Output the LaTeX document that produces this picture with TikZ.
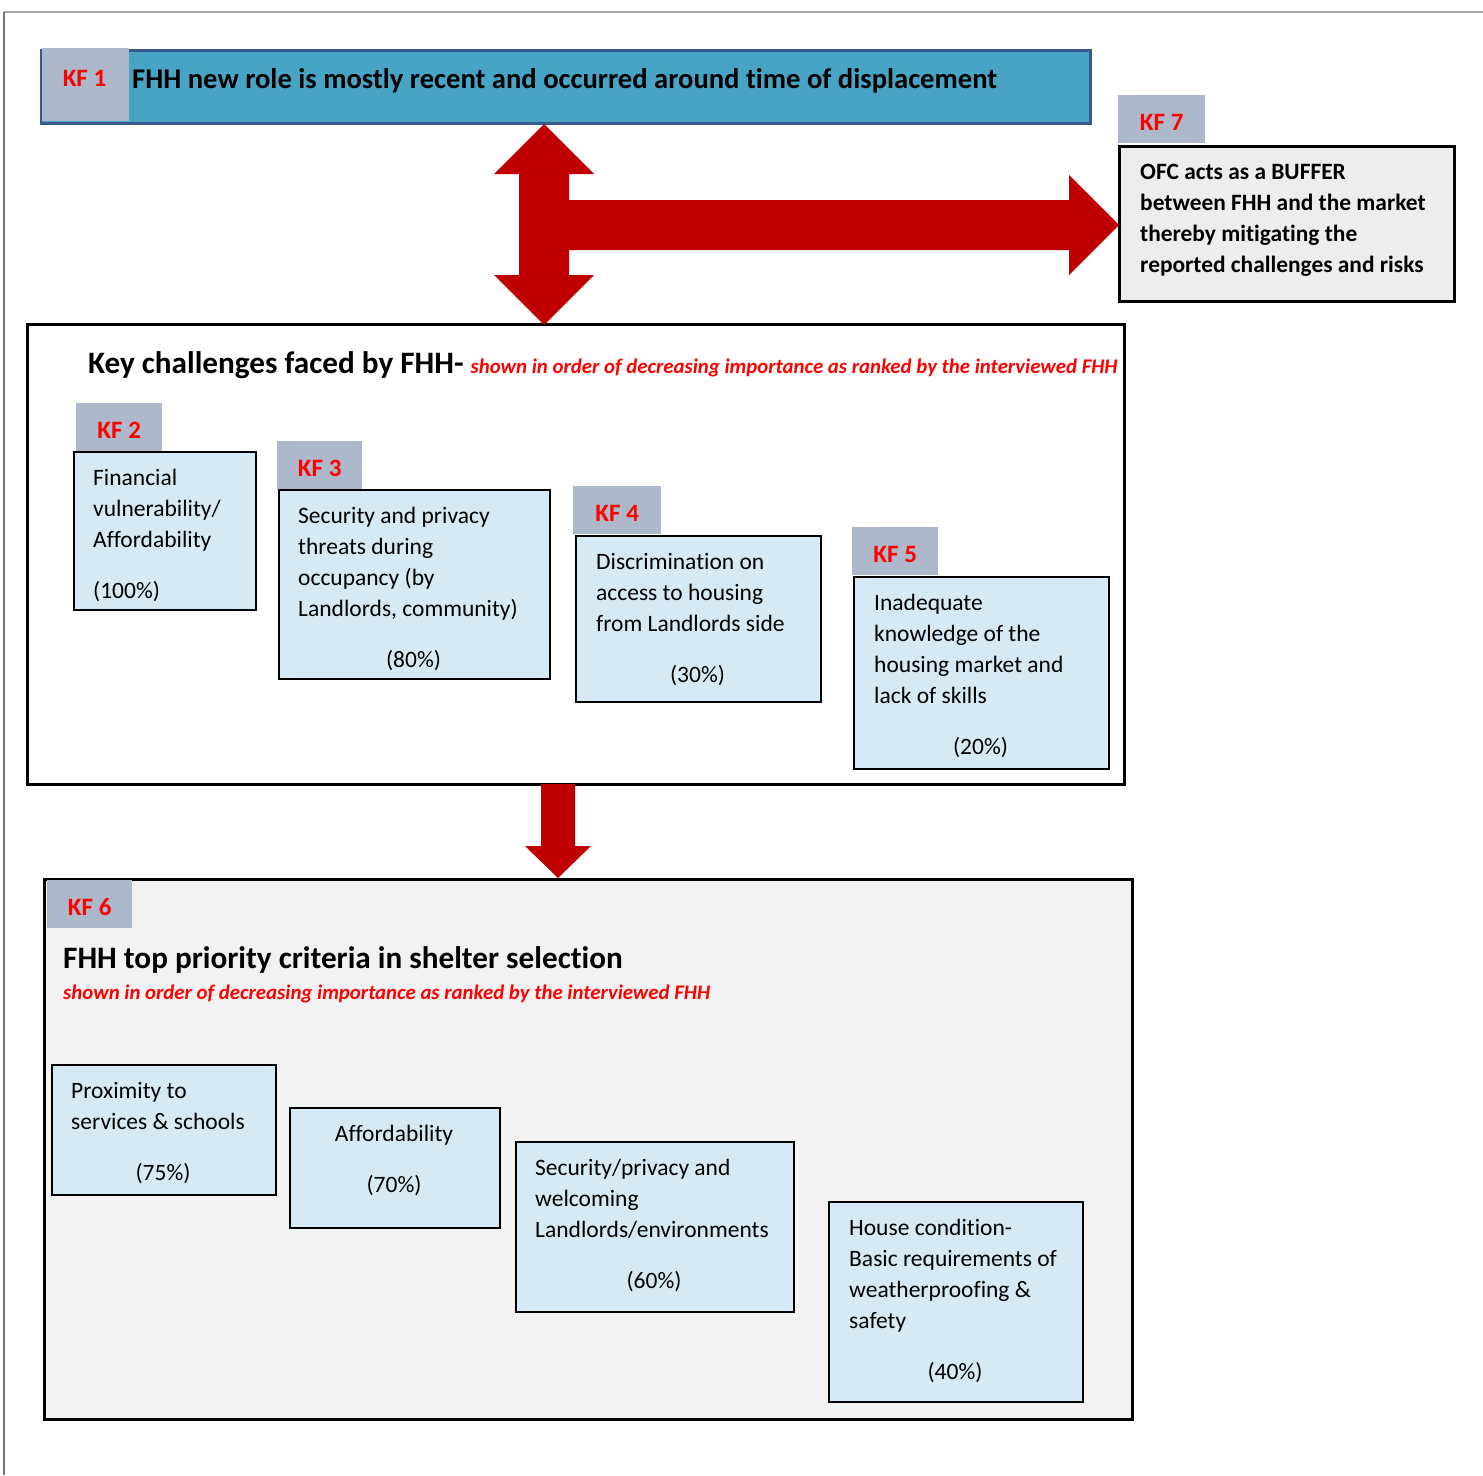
\documentclass[tikz,border=0pt]{standalone}
\usepackage{fontspec}
\setmainfont{Carlito}[Ligatures=NoCommon]
\definecolor{tabgray}{HTML}{ADB9CA}
\definecolor{lblue}{HTML}{D6EAF5}
\definecolor{tealbar}{HTML}{48A4C4}
\definecolor{barborder}{HTML}{3A5A8C}
\definecolor{kfred}{HTML}{FF0000}
\definecolor{arrowred}{HTML}{C00000}
\definecolor{kfsevenfill}{HTML}{EDEDED}
\definecolor{bottomfill}{HTML}{F2F2F2}
\newcommand\fstrut{\rule{0pt}{22pt}}
\begin{document}
\begin{tikzpicture}[x=1pt,y=-1pt,
  tabbox/.style={fill=tabgray, inner sep=0, anchor=north west, text height=22pt, text depth=0pt,
    minimum height=48pt, font=\fontsize{25}{28}\selectfont\bfseries, text=kfred},
  cbox/.style={draw=black, line width=2.3pt, fill=lblue, anchor=north west, inner sep=0},
  btext/.style={anchor=north west, inner sep=0, align=left, font=\fontsize{23.5}{31}\selectfont},
  pct/.style={anchor=base, inner sep=0, font=\fontsize{23.5}{31}\selectfont},
  frame/.style={draw=black, line width=2.5pt, anchor=north west, inner sep=0},
  subtitle/.style={font=\fontsize{20.8}{24}\selectfont\bfseries\itshape, text=kfred},
  blockarrow/.style={fill=arrowred, draw=none}
]
\useasboundingbox (0,0) rectangle (1483,1475);
% page frame
\draw[draw=black!35, line width=1.5pt] (4,12) -- (1483,12);
\draw[draw=black!55, line width=1.5pt] (4,12) -- (4,1475);

% KF1 bar
\node[draw=barborder, line width=2.5pt, fill=tealbar, anchor=north west, inner sep=0,
  minimum width=1049pt, minimum height=73pt] (kf1bar) at (40,49) {};
\fill[tabgray] (41.5,47.8) rectangle (129,120.8);
\node[anchor=base, inner sep=0, font=\fontsize{25}{28}\selectfont\bfseries, text=kfred] (kf1lab) at (84.5,86) {KF 1};
\node[anchor=base west, inner sep=0, font=\fontsize{28.6}{32}\selectfont\bfseries] (kf1title) at (132,88)
  {FHH new role is mostly recent and occurred around time of displacement};

% KF7
\node[tabbox, minimum width=87pt] (t7) at (1118,95) {KF 7};
\node[frame, fill=kfsevenfill, minimum width=335pt, minimum height=155pt] (kf7box) at (1118,145) {};
\node[btext, font=\fontsize{23.4}{31}\selectfont\bfseries] (kf7text) at (1140,157)
  {\fstrut OFC acts as a BUFFER\\between FHH and the market\\thereby mitigating the\\reported challenges and risks};

% Challenges frame
\node[frame, fill=white, minimum width=1097pt, minimum height=460pt] (chal) at (26,323) {};
\node[anchor=base west, inner sep=0, font=\fontsize{31.2}{36}\selectfont\bfseries] (chaltitle) at (88,373)
  {Key challenges faced by FHH- {\fontsize{20.8}{24}\selectfont\itshape\color{kfred}shown in order of decreasing importance as ranked by the interviewed FHH}};

\node[tabbox, minimum width=86pt] (t2) at (76,403) {KF 2};
\node[tabbox, minimum width=85pt] (t3) at (277,441) {KF 3};
\node[tabbox, minimum width=88pt] (t4) at (573,486) {KF 4};
\node[tabbox, minimum width=86pt] (t5) at (852,527) {KF 5};

\node[cbox, minimum width=182pt, minimum height=158pt] (b2) at (73,451) {};
\node[cbox, minimum width=271pt, minimum height=189pt] (b3) at (278,489) {};
\node[cbox, minimum width=245pt, minimum height=166pt] (b4) at (575,535) {};
\node[cbox, minimum width=255pt, minimum height=192pt] (b5) at (853,576) {};

\node[btext] (x2) at (93,463) {\fstrut Financial\\vulnerability/\\Affordability};
\node[pct, anchor=base west] (q2) at (93,598) {(100\%)};
\node[btext] (x3) at (298,501) {\fstrut Security and privacy\\threats during\\occupancy (by\\Landlords, community)};
\node[pct] (q3) at (413.5,667) {(80\%)};
\node[btext] (x4) at (596,547) {\fstrut Discrimination on\\access to housing\\from Landlords side};
\node[pct] (q4) at (697.5,682) {(30\%)};
\node[btext] (x5) at (874,588) {\fstrut Inadequate\\knowledge of the\\housing market and\\lack of skills};
\node[pct] (q5) at (980.5,754) {(20\%)};

% Bottom frame
\node[frame, fill=bottomfill, minimum width=1088pt, minimum height=540pt] (crit) at (43,878) {};
\node[tabbox, minimum width=85pt] (t6) at (47,880) {KF 6};
\node[anchor=base west, inner sep=0, font=\fontsize{31.2}{36}\selectfont\bfseries] (crittitle) at (63,968)
  {FHH top priority criteria in shelter selection};
\node[anchor=base west, inner sep=0, subtitle] (critsub) at (63,999)
  {shown in order of decreasing importance as ranked by the interviewed FHH};

\node[cbox, minimum width=224pt, minimum height=130pt] (p1) at (51,1064) {};
\node[cbox, minimum width=210pt, minimum height=120pt] (p2) at (289,1107) {};
\node[cbox, minimum width=278pt, minimum height=170pt] (p3) at (515,1141) {};
\node[cbox, minimum width=254pt, minimum height=200pt] (p4) at (828,1201) {};

\node[btext] (y1) at (71,1076) {\fstrut Proximity to\\services \& schools};
\node[pct] (r1) at (163,1180) {(75\%)};
\node[pct] (y2) at (394,1141) {Affordability};
\node[pct] (r2) at (394,1192) {(70\%)};
\node[btext] (y3) at (535,1153) {\fstrut Security/privacy and\\welcoming\\Landlords/environments};
\node[pct] (r3) at (654,1288) {(60\%)};
\node[btext] (y4) at (849,1213) {\fstrut House condition-\\Basic requirements of\\weatherproofing \&\\safety};
\node[pct] (r4) at (955,1379) {(40\%)};

% block arrows
\fill[blockarrow] (544,124) -- (594,174) -- (569,174) -- (569,275) -- (594,275) -- (544,325)
  -- (494,275) -- (519,275) -- (519,174) -- (494,174) -- cycle;
\fill[blockarrow] (568,200) -- (1069,200) -- (1069,175) -- (1119,225) -- (1069,275) -- (1069,250) -- (568,250) -- cycle;
\fill[blockarrow] (541,784) -- (575,784) -- (575,846) -- (591,846) -- (558,878) -- (525,846) -- (541,846) -- cycle;
\end{tikzpicture}
\end{document}
